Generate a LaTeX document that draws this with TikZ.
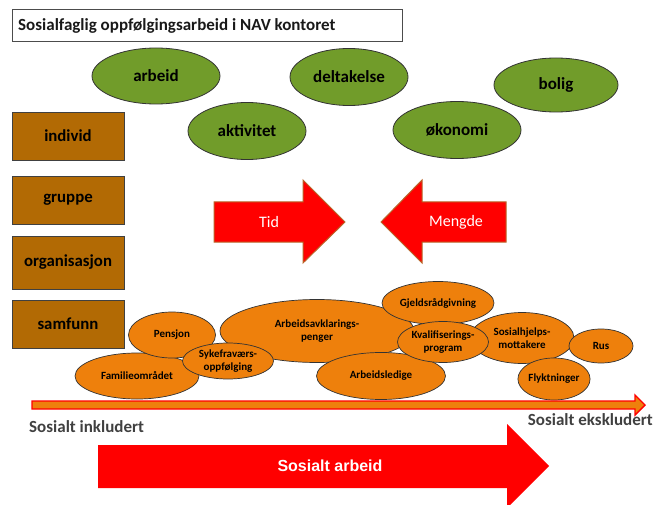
\documentclass[tikz,border=0pt]{standalone}
\usepackage{fontspec}
\setmainfont{Carlito}
\newfontfamily\arialfont{Liberation Sans}
\usetikzlibrary{shapes.geometric}
\definecolor{leafgreen}{RGB}{113,156,42}
\definecolor{boxbrown}{RGB}{178,106,4}
\definecolor{ovalorange}{RGB}{238,128,12}
\definecolor{arrowedge}{RGB}{185,100,40}
\definecolor{labelgray}{RGB}{64,64,64}
\tikzset{
  greenoval/.style={ellipse, draw=black!80, line width=0.8pt, fill=leafgreen, inner sep=0pt,
     font=\fontsize{17}{19}\selectfont\bfseries},
  brownbox/.style={rectangle, draw=black!75, line width=0.8pt, fill=boxbrown, inner sep=0pt,
     minimum width=112pt, font=\fontsize{16.8}{19}\selectfont\bfseries},
  orangeoval/.style={ellipse, draw=black!80, line width=0.7pt, fill=ovalorange, inner sep=0pt,
     align=center, font=\fontsize{11}{13}\selectfont\bfseries},
  redarrow/.style={fill=red, draw=arrowedge, line width=1pt},
  whitetext/.style={text=white, font=\fontsize{16}{18}\selectfont},
  sidelabel/.style={text=labelgray, font=\fontsize{17}{19}\selectfont\bfseries, inner sep=0pt}
}
\begin{document}
\begin{tikzpicture}[x=1pt,y=-1pt]
\useasboundingbox (0,0) rectangle (653,505);
% title
\node[draw=black!70, line width=0.8pt, minimum width=390pt, minimum height=32pt, inner sep=0pt] (title) at (207,25) {};
\node[anchor=west, inner sep=0pt, font=\fontsize{17}{19}\selectfont\bfseries, text=black!90] (titletext) at (18,26) {Sosialfaglig oppfølgingsarbeid i NAV kontoret};
% green ovals
\node[greenoval, minimum width=128pt, minimum height=56pt] (arbeid) at (156,76) {arbeid};
\node[greenoval, minimum width=118pt, minimum height=57pt] (deltakelse) at (349,77) {deltakelse};
\node[greenoval, minimum width=124pt, minimum height=54pt] (bolig) at (556,85) {bolig};
\node[greenoval, minimum width=118pt, minimum height=57pt] (aktivitet) at (247,131) {aktivitet};
\node[greenoval, minimum width=128pt, minimum height=57pt] (okonomi) at (457,130) {økonomi};
% brown boxes
\node[brownbox, minimum height=48pt] (individ) at (68,136) {individ};
\node[brownbox, minimum height=48pt] (gruppe) at (68,200) {gruppe};
\node[brownbox, minimum height=53pt] (organisasjon) at (68,262.5) {organisasjon};
\node[brownbox, minimum height=48pt] (samfunn) at (68,324) {samfunn};
% Tid / Mengde arrows
\draw[redarrow] (214,202) -- (303,202) -- (303,180) -- (345,222) -- (303,263) -- (303,242) -- (214,242) -- cycle;
\node[whitetext] (tid) at (269,222) {Tid};
\draw[redarrow] (506,202) -- (422,202) -- (422,180) -- (381,222) -- (422,263) -- (422,242) -- (506,242) -- cycle;
\node[whitetext] (mengde) at (456,222) {Mengde};
% orange ovals
\node[orangeoval, minimum width=124pt, minimum height=46pt] (familie) at (137,376) {Familieområdet};
\node[orangeoval, minimum width=87pt, minimum height=46pt] (pensjon) at (172,335) {Pensjon};
\node[orangeoval, minimum width=194pt, minimum height=63pt] (aap) at (317,331) {Arbeidsavklarings-\\penger};
\node[orangeoval, minimum width=91pt, minimum height=36pt] (syke) at (228,361) {Sykefraværs-\\oppfølging};
\node[orangeoval, minimum width=129pt, minimum height=47pt] (ledige) at (381,376) {Arbeidsledige};
\node[orangeoval, minimum width=112pt, minimum height=43pt] (gjeld) at (438,303) {Gjeldsrådgivning};
\node[orangeoval, minimum width=104pt, minimum height=51pt] (sosialhj) at (522,338) {Sosialhjelps-\\mottakere};
\node[orangeoval, minimum width=91pt, minimum height=41pt] (kvalif) at (443,342) {Kvalifiserings-\\program};
\node[orangeoval, minimum width=64pt, minimum height=34pt] (rus) at (601,346) {Rus};
\node[orangeoval, minimum width=67pt, minimum height=42pt] (flykt) at (554,379) {Flyktninger};
% long scale arrow
\draw[fill=ovalorange, draw=red, line width=1.4pt, line join=miter]
  (32,401) -- (635,401) -- (635,395) -- (645,405) -- (635,415) -- (635,409) -- (32,409) -- cycle;
\node[sidelabel, anchor=west] (inkl) at (29,427) {Sosialt inkludert};
\node[sidelabel, anchor=east] (ekskl) at (653,420) {Sosialt ekskludert};
% big arrow
\fill[red] (98,445) -- (507,445) -- (507,424) -- (549,466) -- (507,508) -- (507,488) -- (98,488) -- cycle;
\node[text=white, font=\arialfont\fontsize{16}{18}\selectfont\bfseries] (sosarb) at (330,466) {Sosialt arbeid};
\end{tikzpicture}
\end{document}
